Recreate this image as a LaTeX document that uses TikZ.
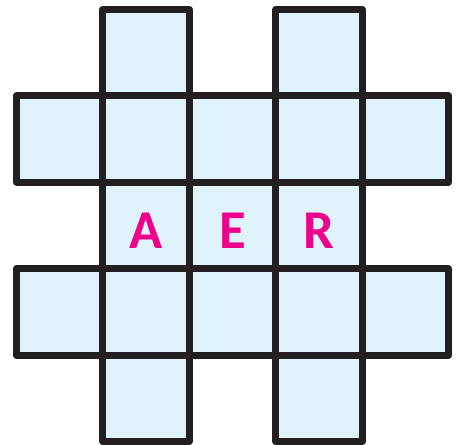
\documentclass[tikz,border=0pt]{standalone}
\usepackage{fontspec}
\setmainfont{Carlito}
\definecolor{cellblue}{HTML}{E0F3FA}
\definecolor{gridline}{HTML}{231F20}
\definecolor{lettermag}{HTML}{EC008C}
\tikzset{
  cell/.style={fill=cellblue, draw=gridline, line width=2.3pt, line join=round},
  letter/.style={text=lettermag, font=\bfseries\fontsize{18}{20}\selectfont, inner sep=0pt}
}

\begin{document}
\begin{tikzpicture}

% The frame
\useasboundingbox (-0.191, -0.04) rectangle (5.11, 5.11);

% The full rows
\foreach \x in {0,...,4} {
  \draw[cell] (\x, 1) rectangle ++(1, 1);
  \draw[cell] (\x, 3) rectangle ++(1, 1);
}

% The arms
\foreach \x in {1,3} {
  \draw[cell] (\x, 0) rectangle ++(1, 1);
  \draw[cell] (\x, 4) rectangle ++(1, 1);
}

% The middle row
\foreach \x in {1,2,3} {
  \draw[cell] (\x, 2) rectangle ++(1, 1);
}

% Letters
\node[letter] (la) at (1.5, 2.44) {A};
\node[letter] (le) at (2.5, 2.44) {E};
\node[letter] (lr) at (3.5, 2.44) {R};

\end{tikzpicture}
\end{document}
